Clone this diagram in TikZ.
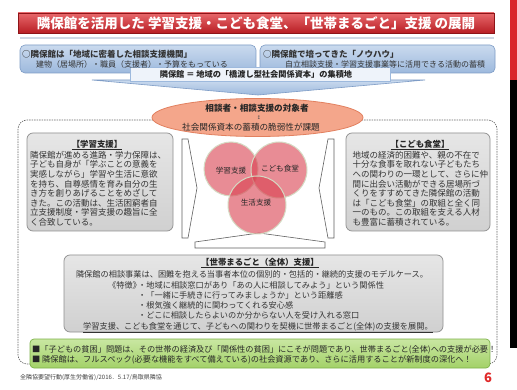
\documentclass[tikz,border=0pt]{standalone}
\usepackage{fontspec}
\setmainfont{Noto Sans CJK JP}
\newfontfamily\dejavu{DejaVu Sans}
\usetikzlibrary{shapes.geometric}
\definecolor{titletop}{HTML}{E8686B}
\definecolor{titlebot}{HTML}{B81E24}
\definecolor{titleedge}{HTML}{8E1418}
\definecolor{bluetop}{HTML}{CADAEE}
\definecolor{bluebot}{HTML}{9DB9DD}
\definecolor{blueedge}{HTML}{7E9CC6}
\definecolor{barfill}{HTML}{EEF3FA}
\definecolor{ellfill}{HTML}{F4A68B}
\definecolor{elledge}{HTML}{E2805F}
\definecolor{gtop}{HTML}{E6E6E6}
\definecolor{gbot}{HTML}{D0D0D0}
\definecolor{gedge}{HTML}{8F8F8F}
\definecolor{vennred}{HTML}{D9404F}
\definecolor{vennedge}{HTML}{D5DAC3}
\definecolor{greentop}{HTML}{C9E7A2}
\definecolor{greenbot}{HTML}{A3D168}
\definecolor{greenedge}{HTML}{7DB24A}
\definecolor{pagered}{HTML}{E02828}
\definecolor{txtgray}{HTML}{333333}
\definecolor{stripred}{HTML}{D9262C}
\begin{document}
\begin{tikzpicture}[x=1pt,y=-1pt,
  graybox/.style={draw=gedge, rounded corners=6pt, top color=gtop, bottom color=gbot, line width=0.7pt},
  bluebox/.style={draw=blueedge, rounded corners=5pt, top color=bluetop, bottom color=bluebot, line width=0.6pt},
  ptr/.style={draw=gray!75!black, fill=white, line width=0.6pt},
  venn/.style={fill=vennred, fill opacity=0.6, draw=vennedge, draw opacity=1, line width=1pt},
  body/.style={inner sep=0pt, text=txtgray, font=\fontsize{8.5}{9.6}\selectfont, align=left, anchor=north west},
  row/.style={inner sep=0pt, text=txtgray, font=\fontsize{8.2}{9}\selectfont},
  greentext/.style={inner sep=0pt, text=black!85, font=\fontsize{8.2}{9}\selectfont, anchor=west},
]
\useasboundingbox (0,0) rectangle (517,390);
\fill[white] (0,0) rectangle (517,390);
% right strip
\fill[stripred] (510,0) rectangle (517,80);
\fill[black] (510,80) rectangle (517,348);
% title
\draw[titleedge, line width=0.6pt, top color=titletop, bottom color=titlebot] (18,13) rectangle (494,33);
\node[inner sep=0pt, text=white, font=\fontsize{13.5}{14}\selectfont\bfseries] (title) at (256,23.5)
  {隣保館を活用した 学習支援・こども食堂、「世帯まるごと」支援 の展開};
\draw[color={rgb,255:red,208;green,216;blue,228}, line width=2pt] (20,38) -- (494,38);
% blue callouts
\path[bluebox, rounded corners=0pt] (92,80) -- (425,80) -- (258,95) -- cycle;
\path[bluebox] (20,45) rectangle (256,73);
\path[bluebox] (260,45) rectangle (495,73);
\path[draw=bluebot, fill=barfill, line width=0.5pt] (130,67) rectangle (390,81);
\node[inner sep=0pt, anchor=west, font=\fontsize{8.5}{9}\selectfont\bfseries, text=black!80] (l1) at (22,54.5) {○隣保館は「地域に密着した相談支援機関」};
\node[inner sep=0pt, anchor=west, font=\fontsize{8}{9}\selectfont, text=txtgray] (l2) at (36,64) {建物（居場所）・職員（支援者）・予算をもっている};
\node[inner sep=0pt, anchor=west, font=\fontsize{8.5}{9}\selectfont\bfseries, text=black!80] (r1) at (263,54.5) {○隣保館で培ってきた「ノウハウ」};
\node[inner sep=0pt, anchor=west, font=\fontsize{8}{9}\selectfont, text=txtgray] (r2) at (285,64) {自立相談支援・学習支援事業等に活用できる活動の蓄積};
\node[inner sep=0pt, font=\fontsize{8.2}{9}\selectfont\bfseries, text=black!85] (bar) at (256,74) {隣保館 ＝ 地域の「橋渡し型社会関係資本」の集積地};
% dashed frame
\draw[gray!80!black, line width=0.6pt, dash pattern=on 1.5pt off 1pt, rounded corners=9pt] (18,120) rectangle (497,364);
% ellipse
\node[ellipse, draw=elledge, fill=ellfill, line width=0.8pt, minimum width=211pt, minimum height=38pt, inner sep=0pt] (ell) at (257.5,117.5) {};
\node[inner sep=0pt, font=\fontsize{8.6}{9}\selectfont\bfseries, text=black!85] (e1) at (257,108) {相談者・相談支援の対象者};
\node[inner sep=0pt, font=\dejavu\fontsize{5}{5}\selectfont, text=black!70] (e2) at (259,117.5) {↕};
\node[inner sep=0pt, font=\fontsize{8.6}{9}\selectfont, text=black!85] (e3) at (251,127) {社会関係資本の蓄積の脆弱性が課題};
% pointers around venn
\path[ptr] (182,139) -- (188,139) -- (197,188) -- (188,238) -- (182,238) -- cycle;
\path[ptr] (334,139) -- (328,139) -- (319,188) -- (328,238) -- (334,238) -- cycle;
\path[ptr] (195,248) -- (195,242) -- (259,233) -- (325,242) -- (325,248) -- cycle;
% gray boxes
\path[graybox] (27,133) rectangle (173,231);
\path[graybox] (346,133) rectangle (490,231);
\node[inner sep=0pt, font=\fontsize{8.4}{9}\selectfont\bfseries, text=black!85] (t1) at (97,145) {\underline{【学習支援】}};
\node[body] (b1) at (30,151) {隣保館が進める進路・学力保障は、\\子ども自身が「学ぶことの意義を\\実感しながら」学習や生活に意欲\\を持ち、自尊感情を育み自分の生\\き方を創りあげることをめざして\\きた。この活動は、生活困窮者自\\立支援制度・学習支援の趣旨に全\\く合致している。};
\node[inner sep=0pt, font=\fontsize{8.4}{9}\selectfont\bfseries, text=black!85] (t2) at (420,145) {\underline{【こども食堂】}};
\node[body] (b2) at (352.5,151) {地域の経済的困難や、親の不在で\\十分な食事を取れない子どもたち\\への関わりの一環として、さらに仲\\間に出会い活動ができる居場所づ\\くりをすすめてきた隣保館の活動\\は「こども食堂」の取組と全く同\\一のもの。この取組を支える人材\\も豊富に蓄積されている。};
% venn
\path[venn] (231,169) circle (27);
\path[venn] (279,170) circle (28);
\path[venn] (257,205) circle (29);
\node[inner sep=0pt, font=\fontsize{7.6}{8}\selectfont, text=black!85] (v1) at (231,171) {学習支援};
\node[inner sep=0pt, font=\fontsize{7.6}{8}\selectfont, text=black!85] (v2) at (280,169) {こども食堂};
\node[inner sep=0pt, font=\fontsize{7.6}{8}\selectfont, text=black!85] (v3) at (256,203) {生活支援};
% bottom box
\path[graybox] (64,255) rectangle (443,332);
\node[row, font=\fontsize{8.4}{9}\selectfont\bfseries, text=black!85] (t3) at (260,263) {\underline{【世帯まるごと（全体）支援】}};
\node[row] (s0) at (252,274) {隣保館の相談事業は、困難を抱える当事者本位の個別的・包括的・継続的支援のモデルケース。};
\node[row, anchor=west] (s1a) at (108,285) {《特徴》};
\node[row, anchor=west] (s1) at (138,285) {・地域に相談窓口があり「あの人に相談してみよう」という関係性};
\node[row, anchor=west] (s2) at (138,295) {・「一緒に手続きに行ってみましょうか」という距離感};
\node[row, anchor=west] (s3) at (138,305) {・根気強く継続的に関わってくれる安心感};
\node[row, anchor=west] (s4) at (138,315) {・どこに相談したらよいのか分からない人を受け入れる窓口};
\node[row] (s5) at (258,327.5) {\underline{学習支援、こども食堂を通じて、子どもへの関わりを契機に世帯まるごと(全体)の支援を展開。}};
% green box
\draw[greenedge, line width=0.7pt, rounded corners=4pt, top color=greentop, bottom color=greenbot] (30,339) rectangle (490,368);
\node[greentext] (g1) at (32,350) {■「子どもの貧困」問題は、その世帯の経済及び「関係性の貧困」にこそが問題であり、世帯まるごと(全体)への支援が必要！};
\node[greentext] (g2) at (32,360) {■ 隣保館は、フルスペック(必要な機能をすべて備えている)の社会資源であり、さらに活用することが新制度の深化へ！};
% footer
\node[inner sep=0pt, anchor=west, font=\fontsize{6}{6}\selectfont, text=black!75] (foot) at (20,378) {全隣協要望行動(厚生労働省)/2016．5.17/鳥取県隣協};
\node[inner sep=0pt, font=\fontsize{13}{13}\selectfont\bfseries, text=pagered] (pg) at (488,378) {6};
\end{tikzpicture}
\end{document}
